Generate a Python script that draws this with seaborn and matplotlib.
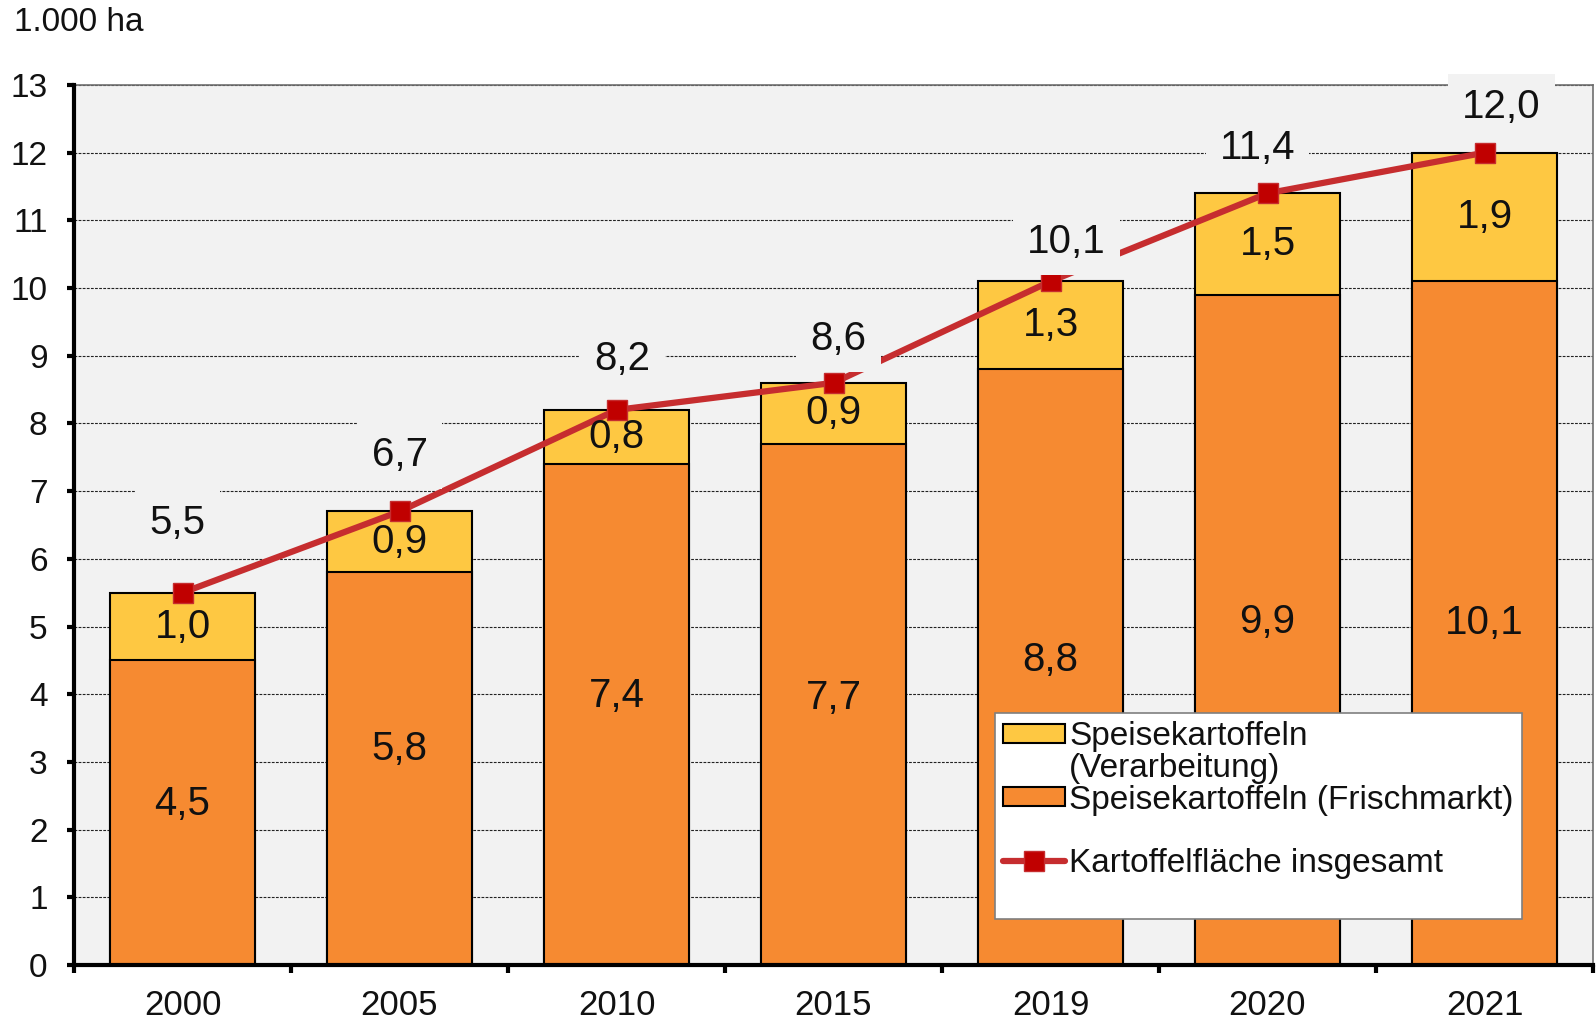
import numpy as np
import matplotlib
matplotlib.use("Agg")
import matplotlib.pyplot as plt
import seaborn as sns
from matplotlib.patches import Patch
from matplotlib.lines import Line2D

# ---- data ----
years = ["2000", "2005", "2010", "2015", "2019", "2020", "2021"]
frischmarkt = [4.5, 5.8, 7.4, 7.7, 8.8, 9.9, 10.1]
verarbeitung = [1.0, 0.9, 0.8, 0.9, 1.3, 1.5, 1.9]
insgesamt = [5.5, 6.7, 8.2, 8.6, 10.1, 11.4, 12.0]
y_ticks = list(range(0, 14))
unit_label = "1.000 ha"
legend_labels = ["Speisekartoffeln", "(Verarbeitung)",
                 "Speisekartoffeln (Frischmarkt)", "Kartoffelfläche insgesamt"]

# ---- layout (label offsets in pixels, x right / y up) ----
total_label_offsets = [(-5, 70), (0, 56), (6, 51), (5, 44), (16, 39), (-10, 45), (17, 46)]
frisch_label_offsets = [9, 20, 19, 6, 7, 8, 0]

# ---- style ----
c_orange = "#F68A31"
c_yellow = "#FEC842"
c_line = "#C62D2F"
c_marker = "#C00000"
c_bg = "#F2F2F2"
c_text = "#111111"

sns.set_theme(style="ticks")
plt.rcParams["font.family"] = ["Liberation Sans", "DejaVu Sans"]
plt.rcParams["text.color"] = c_text

DPI = 100
fig = plt.figure(figsize=(15.96, 10.22), dpi=DPI)
ax = fig.add_axes([74 / 1596, 1 - 965 / 1022, (1593 - 74) / 1596, (965 - 85) / 1022])
ax.set_facecolor(c_bg)
px = 72.0 / DPI  # points per pixel

LBL = 29
bar_w = 0.667
# total (yellow) bars, then Frischmarkt (orange) on top of lower part
sns.barplot(x=years, y=insgesamt, color=c_yellow, saturation=1, width=bar_w,
            edgecolor="black", linewidth=1.5, ax=ax, zorder=2)
sns.barplot(x=years, y=frischmarkt, color=c_orange, saturation=1, width=bar_w,
            edgecolor="black", linewidth=1.5, ax=ax, zorder=2)

xpos = np.arange(len(years))
ax.plot(xpos, insgesamt, color=c_line, lw=4.5, marker="s", markersize=15,
        markerfacecolor=c_marker, markeredgecolor=c_line, markeredgewidth=1,
        zorder=4, solid_capstyle="butt")

# segment labels
for i in range(len(years)):
    f = frischmarkt[i]
    v = verarbeitung[i]
    ax.annotate(f"{f:.1f}".replace(".", ","), xy=(xpos[i], f / 2),
                xytext=(0, frisch_label_offsets[i] * px), textcoords="offset points",
                ha="center", va="center", fontsize=LBL, color=c_text, zorder=6)
    ax.annotate(f"{v:.1f}".replace(".", ","), xy=(xpos[i], f + v / 2),
                xytext=(0, 0), textcoords="offset points",
                ha="center", va="center", fontsize=LBL, color=c_text, zorder=6)
    dx, dy = total_label_offsets[i]
    ax.annotate(f"{insgesamt[i]:.1f}".replace(".", ","), xy=(xpos[i], insgesamt[i]),
                xytext=(dx * px, dy * px), textcoords="offset points",
                ha="center", va="center", fontsize=LBL, color=c_text, zorder=7,
                annotation_clip=False,
                bbox=dict(boxstyle="square,pad=0.35", facecolor=c_bg, edgecolor="none"))

# axes
ax.set_xlim(-0.5, len(years) - 0.5)
ax.set_ylim(0, 13)
ax.set_yticks(y_ticks)
ax.set_yticklabels([str(t) for t in y_ticks], fontsize=24, color=c_text)
ax.set_xticks(xpos)
ax.set_xticklabels(years, fontsize=25, color=c_text)
ax.set_xticks(np.arange(-0.5, len(years)), minor=True)
ax.tick_params(axis="x", which="major", length=0, pad=17)
ax.tick_params(axis="x", which="minor", length=6, width=3, direction="out", color="black")
ax.tick_params(axis="y", which="major", length=5, width=3, direction="out", color="black", pad=14)
ax.set_xlabel("")
ax.set_ylabel("")

ax.yaxis.grid(True, linestyle=(0, (2.5, 1.2)), color="#222222", lw=0.8)
ax.xaxis.grid(False)
ax.set_axisbelow(True)

for s in ["left", "bottom"]:
    ax.spines[s].set_color("black")
    ax.spines[s].set_linewidth(3)
    ax.spines[s].set_zorder(5)
for s in ["top", "right"]:
    ax.spines[s].set_visible(True)
    ax.spines[s].set_color("#6f6f6f")
    ax.spines[s].set_linewidth(1.2)

fig.text(14 / 1596, 1 - 22 / 1022, unit_label, fontsize=24, ha="left", va="center", color=c_text)

# legend
blank = Line2D([], [], linestyle="none")
handles = [
    Patch(facecolor=c_yellow, edgecolor="black", linewidth=1.5),
    blank,
    Patch(facecolor=c_orange, edgecolor="black", linewidth=1.5),
    blank,
    Line2D([], [], color=c_line, lw=4.5, marker="s", markersize=15,
           markerfacecolor=c_marker, markeredgecolor=c_line),
    blank,
]
labels = [legend_labels[0], legend_labels[1], legend_labels[2], " ", legend_labels[3], " "]
leg = ax.legend(handles, labels, loc="upper left",
                bbox_to_anchor=(995 / 1596, 1 - 713 / 1022), bbox_transform=fig.transFigure,
                fontsize=24, frameon=True, fancybox=False, framealpha=1,
                facecolor="white", edgecolor="#7f7f7f", labelspacing=0.02,
                handlelength=1.85, handleheight=0.5, handletextpad=0.12,
                borderpad=0.25, borderaxespad=0)
leg.get_frame().set_linewidth(1.2)
leg.set_zorder(8)

fig.savefig("out.png", dpi=DPI, facecolor="white")
